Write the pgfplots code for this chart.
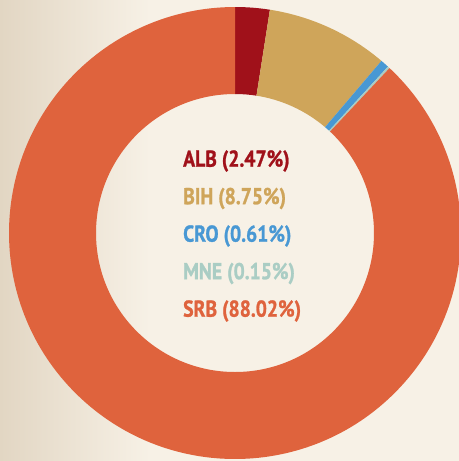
\documentclass[border=0pt]{standalone}
\usepackage{pgfplots}
\usepackage{pgfplotstable}
\pgfplotsset{compat=1.18}
\usepackage{fontspec}
\setmainfont{PT Sans}
\newfontfamily\labfont{PT Sans Bold}[FakeBold=1.2]

\definecolor{bgc}{HTML}{F7F1E6}
\definecolor{bgdark}{HTML}{E2D6C3}
\definecolor{albc}{HTML}{A0111A}
\definecolor{bihc}{HTML}{CFA55A}
\definecolor{croc}{HTML}{4898D4}
\definecolor{mnec}{HTML}{AACDC4}
\definecolor{srbc}{HTML}{DF633D}

% share of each country, clockwise from the top
\pgfplotstableread{
code value color
ALB  2.47  albc
BIH  8.75  bihc
CRO  0.61  croc
MNE  0.15  mnec
SRB  88.02 srbc
}\shares

\begin{document}
\begin{tikzpicture}
\useasboundingbox (0,0) rectangle (459bp,461bp);
\fill[bgc] (0,0) rectangle (459bp,461bp);
\shade[left color=bgdark, right color=bgc] (0,0) rectangle (150bp,461bp);
\begin{axis}[
    at={(0,0)}, anchor=south west,
    x=1bp, y=1bp, y dir=reverse,
    xmin=0, xmax=459, ymin=0, ymax=461,
    hide axis, clip=true,
]
\def\startang{90}
\pgfplotsforeachungrouped \i in {0,...,4}{
    \pgfplotstablegetelem{\i}{value}\of\shares \let\val\pgfplotsretval
    \pgfplotstablegetelem{\i}{color}\of\shares \let\col\pgfplotsretval
    \pgfplotstablegetelem{\i}{code}\of\shares \let\code\pgfplotsretval
    \pgfmathsetmacro\endang{\startang-3.6*\val}
    \pgfmathsetmacro\ypos{161+37.5*\i}
    \edef\seg{\noexpand\fill[\col] ([shift={(\startang:226bp)}]axis cs:235,233)
        arc[start angle=\startang, end angle=\endang, radius=226bp]
        -- ([shift={(\endang:139bp)}]axis cs:235,233)
        arc[start angle=\endang, end angle=\startang, radius=139bp] -- cycle;
        \noexpand\node[anchor=west, inner sep=0pt, text=\col, xscale=0.86,
        font=\noexpand\fontsize{23}{27}\noexpand\selectfont\noexpand\labfont]
        at (axis cs:183,\ypos) {\code\space(\val\noexpand\%)};}
    \seg
    \let\startang\endang
}
\end{axis}
\end{tikzpicture}
\end{document}
